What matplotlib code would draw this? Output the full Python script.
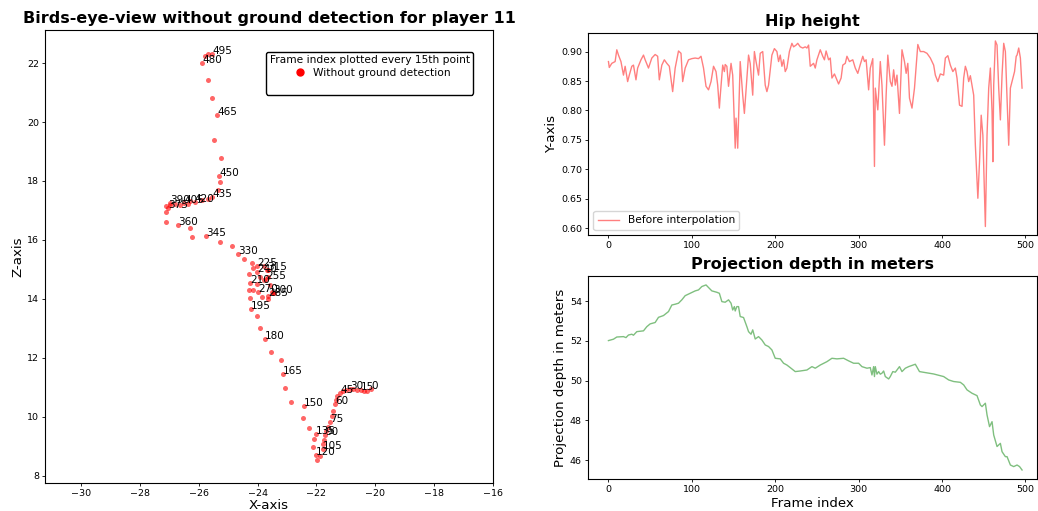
"""Player 11 overview: top-down path, hip height and projection depth."""
import matplotlib
matplotlib.use("Agg")
from matplotlib import pyplot as plt
from matplotlib.lines import Line2D

# bird's-eye path, one sample every 5 frames
traj_frames = list(range(0, 500, 5))
traj_x = [-20.15, -20.28, -20.38, -20.49, -20.62, -20.76, -20.86, -21.00, -21.10, -21.20,
          -21.30, -21.34, -21.37, -21.44, -21.47, -21.54, -21.61, -21.68, -21.71, -21.74,
          -21.78, -21.78, -21.88, -21.98, -22.02, -22.12, -22.08, -22.02, -22.25, -22.46,
          -22.42, -22.86, -23.07, -23.14, -23.20, -23.54, -23.75, -23.92, -24.02, -24.22,
          -24.26, -24.29, -24.26, -24.29, -24.16, -24.02, -23.78, -23.65, -24.02, -23.92,
          -23.78, -23.71, -24.02, -24.16, -23.99, -23.85, -23.65, -23.65, -23.51, -23.44,
          -23.48, -23.58, -23.65, -23.68, -24.19, -24.46, -24.67, -24.87, -25.28, -25.75,
          -26.23, -26.30, -26.70, -27.11, -27.11, -27.04, -27.11, -26.98, -26.98, -26.81,
          -26.64, -26.50, -26.36, -26.30, -26.13, -25.89, -25.68, -25.55, -25.35, -25.28,
          -25.31, -25.24, -25.48, -25.38, -25.55, -25.68, -25.89, -25.79, -25.68, -25.55]
traj_z = [10.95, 10.88, 10.88, 10.92, 10.92, 10.95, 10.95, 10.92, 10.88, 10.81,
          10.71, 10.58, 10.44, 10.20, 10.03, 9.83, 9.66, 9.53, 9.39, 9.22,
          9.08, 8.92, 8.68, 8.54, 8.71, 8.98, 9.25, 9.42, 9.63, 9.97,
          10.37, 10.51, 10.98, 11.46, 11.93, 12.20, 12.64, 13.02, 13.42, 13.66,
          14.03, 14.31, 14.54, 14.85, 15.05, 15.12, 15.12, 14.98, 14.92, 14.75,
          14.64, 14.68, 14.51, 14.31, 14.24, 14.07, 14.00, 14.10, 14.24, 14.20,
          14.20, 14.47, 14.75, 14.98, 15.22, 15.36, 15.53, 15.80, 15.93, 16.14,
          16.10, 16.41, 16.51, 16.61, 16.95, 17.08, 17.15, 17.19, 17.25, 17.22,
          17.19, 17.25, 17.22, 17.32, 17.29, 17.36, 17.39, 17.46, 17.69, 17.97,
          18.17, 18.78, 19.39, 20.24, 20.81, 21.42, 22.00, 22.24, 22.31, 22.31]
label_every = 15

hip_frames = [0, 1, 4, 8, 10, 12, 15, 18, 20, 23, 25, 28, 30, 33, 35, 39, 42, 44, 48, 52,
              56, 59, 61, 64, 67, 70, 73, 77, 80, 84, 87, 89, 92, 96, 100, 104, 108, 111, 114, 117,
              120, 123, 126, 129, 131, 133, 134, 137, 139, 140, 142, 144, 147, 149, 152, 153, 155, 158, 161, 163,
              166, 168, 170, 173, 175, 177, 180, 182, 185, 188, 190, 192, 196, 199, 202, 204, 206, 208, 210, 212,
              214, 217, 220, 222, 225, 227, 230, 233, 236, 238, 240, 242, 246, 248, 250, 254, 257, 259, 261, 264,
              266, 268, 271, 273, 276, 279, 281, 284, 286, 289, 293, 296, 299, 302, 305, 307, 309, 312, 314, 317,
              319, 320, 323, 326, 328, 331, 333, 335, 338, 340, 342, 344, 346, 349, 352, 355, 357, 359, 361, 364,
              367, 369, 371, 374, 378, 382, 386, 390, 392, 395, 398, 402, 404, 407, 410, 413, 416, 418, 421, 424,
              426, 428, 430, 432, 434, 437, 438, 440, 443, 445, 447, 449, 452, 454, 456, 458, 460, 461, 462, 464,
              466, 468, 470, 472, 474, 476, 478, 480, 482, 485, 487, 489, 490, 492, 494, 496]
hip_height = [0.883, 0.873, 0.880, 0.883, 0.903, 0.894, 0.883, 0.860, 0.875, 0.849,
              0.860, 0.875, 0.877, 0.852, 0.872, 0.886, 0.894, 0.886, 0.872, 0.889,
              0.895, 0.892, 0.852, 0.877, 0.886, 0.880, 0.875, 0.832, 0.872, 0.901,
              0.897, 0.849, 0.872, 0.886, 0.888, 0.889, 0.888, 0.892, 0.872, 0.841,
              0.835, 0.849, 0.875, 0.866, 0.843, 0.804, 0.824, 0.877, 0.866, 0.878,
              0.875, 0.841, 0.880, 0.860, 0.736, 0.787, 0.736, 0.883, 0.826, 0.795,
              0.855, 0.894, 0.880, 0.826, 0.900, 0.883, 0.860, 0.897, 0.900, 0.843,
              0.832, 0.843, 0.894, 0.905, 0.900, 0.883, 0.894, 0.875, 0.886, 0.866,
              0.872, 0.900, 0.914, 0.908, 0.911, 0.914, 0.908, 0.906, 0.908, 0.906,
              0.911, 0.875, 0.880, 0.872, 0.886, 0.903, 0.892, 0.886, 0.901, 0.886,
              0.889, 0.855, 0.862, 0.855, 0.845, 0.855, 0.877, 0.880, 0.892, 0.883,
              0.886, 0.872, 0.863, 0.878, 0.892, 0.883, 0.886, 0.835, 0.872, 0.888,
              0.705, 0.838, 0.801, 0.883, 0.843, 0.741, 0.826, 0.894, 0.849, 0.841,
              0.869, 0.843, 0.860, 0.795, 0.903, 0.883, 0.863, 0.880, 0.821, 0.804,
              0.838, 0.875, 0.912, 0.900, 0.900, 0.897, 0.889, 0.877, 0.860, 0.849,
              0.862, 0.860, 0.889, 0.893, 0.877, 0.866, 0.872, 0.855, 0.809, 0.807,
              0.855, 0.875, 0.866, 0.849, 0.859, 0.835, 0.826, 0.741, 0.651, 0.713,
              0.792, 0.758, 0.603, 0.758, 0.838, 0.872, 0.798, 0.713, 0.843, 0.918,
              0.911, 0.838, 0.784, 0.860, 0.914, 0.900, 0.821, 0.741, 0.838, 0.855,
              0.866, 0.892, 0.894, 0.906, 0.889, 0.838]

depth_frames = [0, 6, 10, 18, 21, 24, 28, 30, 34, 42, 46, 50, 56, 60, 66, 72, 76, 80, 84, 88,
                92, 98, 104, 108, 112, 117, 120, 124, 130, 133, 136, 140, 144, 147, 149, 151, 152, 154, 156, 158,
                162, 166, 168, 171, 173, 176, 180, 184, 188, 192, 196, 200, 206, 210, 214, 218, 224, 230, 238, 244,
                248, 254, 262, 268, 274, 282, 288, 294, 300, 304, 310, 314, 316, 318, 319, 320, 322, 324, 326, 328,
                330, 332, 336, 338, 341, 344, 346, 349, 352, 356, 360, 368, 373, 380, 390, 402, 408, 414, 422, 426,
                430, 436, 442, 446, 448, 452, 454, 457, 460, 462, 466, 470, 472, 476, 478, 482, 486, 490, 493, 496]
depth_m = [52.02, 52.09, 52.20, 52.22, 52.17, 52.30, 52.34, 52.29, 52.47, 52.51,
           52.72, 52.86, 52.93, 53.19, 53.28, 53.48, 53.81, 53.85, 53.90, 54.07,
           54.28, 54.40, 54.52, 54.57, 54.74, 54.82, 54.69, 54.52, 54.45, 54.40,
           53.98, 53.95, 54.07, 53.90, 53.56, 53.73, 53.51, 53.73, 53.73, 53.23,
           53.18, 52.72, 52.47, 52.34, 52.56, 52.10, 52.22, 52.05, 51.80, 51.72,
           51.55, 51.13, 51.10, 50.88, 50.79, 50.66, 50.46, 50.49, 50.54, 50.71,
           50.63, 50.79, 50.96, 51.13, 51.10, 51.13, 51.00, 50.88, 50.88, 50.71,
           50.63, 50.66, 50.29, 50.71, 50.21, 50.71, 50.33, 50.46, 50.33, 50.38,
           50.49, 50.21, 50.09, 50.21, 50.46, 50.43, 50.54, 50.71, 50.46, 50.63,
           50.71, 50.83, 50.46, 50.41, 50.34, 50.21, 50.04, 49.96, 49.92, 49.79,
           49.54, 49.37, 49.25, 48.78, 48.70, 48.87, 48.28, 47.69, 47.94, 47.27,
           46.69, 46.85, 46.43, 46.18, 46.18, 45.76, 45.68, 45.76, 45.68, 45.51]

TICK_FS = 6.8
LABEL_FS = 9.6
TITLE_FS = 11.5


def style_ticks(ax):
    """Short ticks and small labels, as in a shrunk-down figure."""
    ax.tick_params(labelsize=TICK_FS, length=2.4, width=0.6, pad=2.0)


fig = plt.figure(figsize=(10.38, 5.11), dpi=100)
ax_bev = fig.add_axes([0.0434, 0.0548, 0.4316, 0.8865])
ax_hip = fig.add_axes([0.5665, 0.5401, 0.4326, 0.3959])
ax_depth = fig.add_axes([0.5665, 0.0620, 0.4326, 0.3979])

# bird's-eye view
ax_bev.scatter(traj_x, traj_z, s=13, color="red", alpha=0.6, linewidths=0)
for frame, x, z in zip(traj_frames, traj_x, traj_z):
    if frame % label_every == 0:
        ax_bev.annotate(str(frame), (x, z), fontsize=7.5)
ax_bev.set_xlim(-31.22, -16.0)
ax_bev.set_ylim(7.76, 23.12)
ax_bev.set_title("Birds-eye-view without ground detection for player 11",
                 fontsize=TITLE_FS, fontweight="bold", pad=5)
ax_bev.set_xlabel("X-axis", fontsize=LABEL_FS, labelpad=0.5)
ax_bev.set_ylabel("Z-axis", fontsize=LABEL_FS, labelpad=2)
style_ticks(ax_bev)
handle = Line2D([], [], linestyle="none", marker="o", color="red", markersize=5)
blank = Line2D([], [], linestyle="none")
leg = ax_bev.legend([handle, blank], ["Without ground detection", " "],
                    title="Frame index plotted every 15th point",
                    loc="upper right", bbox_to_anchor=(0.955, 0.952), borderaxespad=0,
                    fontsize=7.7, title_fontsize=7.7, handletextpad=0.2, labelspacing=0.3,
                    borderpad=0.3, fancybox=True, framealpha=1.0)
leg.get_frame().set_edgecolor("black")

# hip height
ax_hip.plot(hip_frames, hip_height, color="red", alpha=0.5, linewidth=1.0,
            label="Before interpolation")
ax_hip.set_xlim(-24.5, 514)
ax_hip.set_ylim(0.5886, 0.932)
ax_hip.set_title("Hip height", fontsize=TITLE_FS, fontweight="bold", pad=5)
ax_hip.set_ylabel("Y-axis", fontsize=LABEL_FS, labelpad=2)
style_ticks(ax_hip)
ax_hip.legend(loc="lower left", fontsize=7.7)

# projection depth
ax_depth.plot(depth_frames, depth_m, color="green", alpha=0.5, linewidth=1.0)
ax_depth.set_xlim(-24.5, 514)
ax_depth.set_ylim(45.04, 55.27)
ax_depth.set_title("Projection depth in meters", fontsize=TITLE_FS, fontweight="bold", pad=5)
ax_depth.set_xlabel("Frame index", fontsize=LABEL_FS, labelpad=1.5)
ax_depth.set_ylabel("Projection depth in meters", fontsize=LABEL_FS, labelpad=2)
style_ticks(ax_depth)

fig.savefig("out.png", dpi=100)
